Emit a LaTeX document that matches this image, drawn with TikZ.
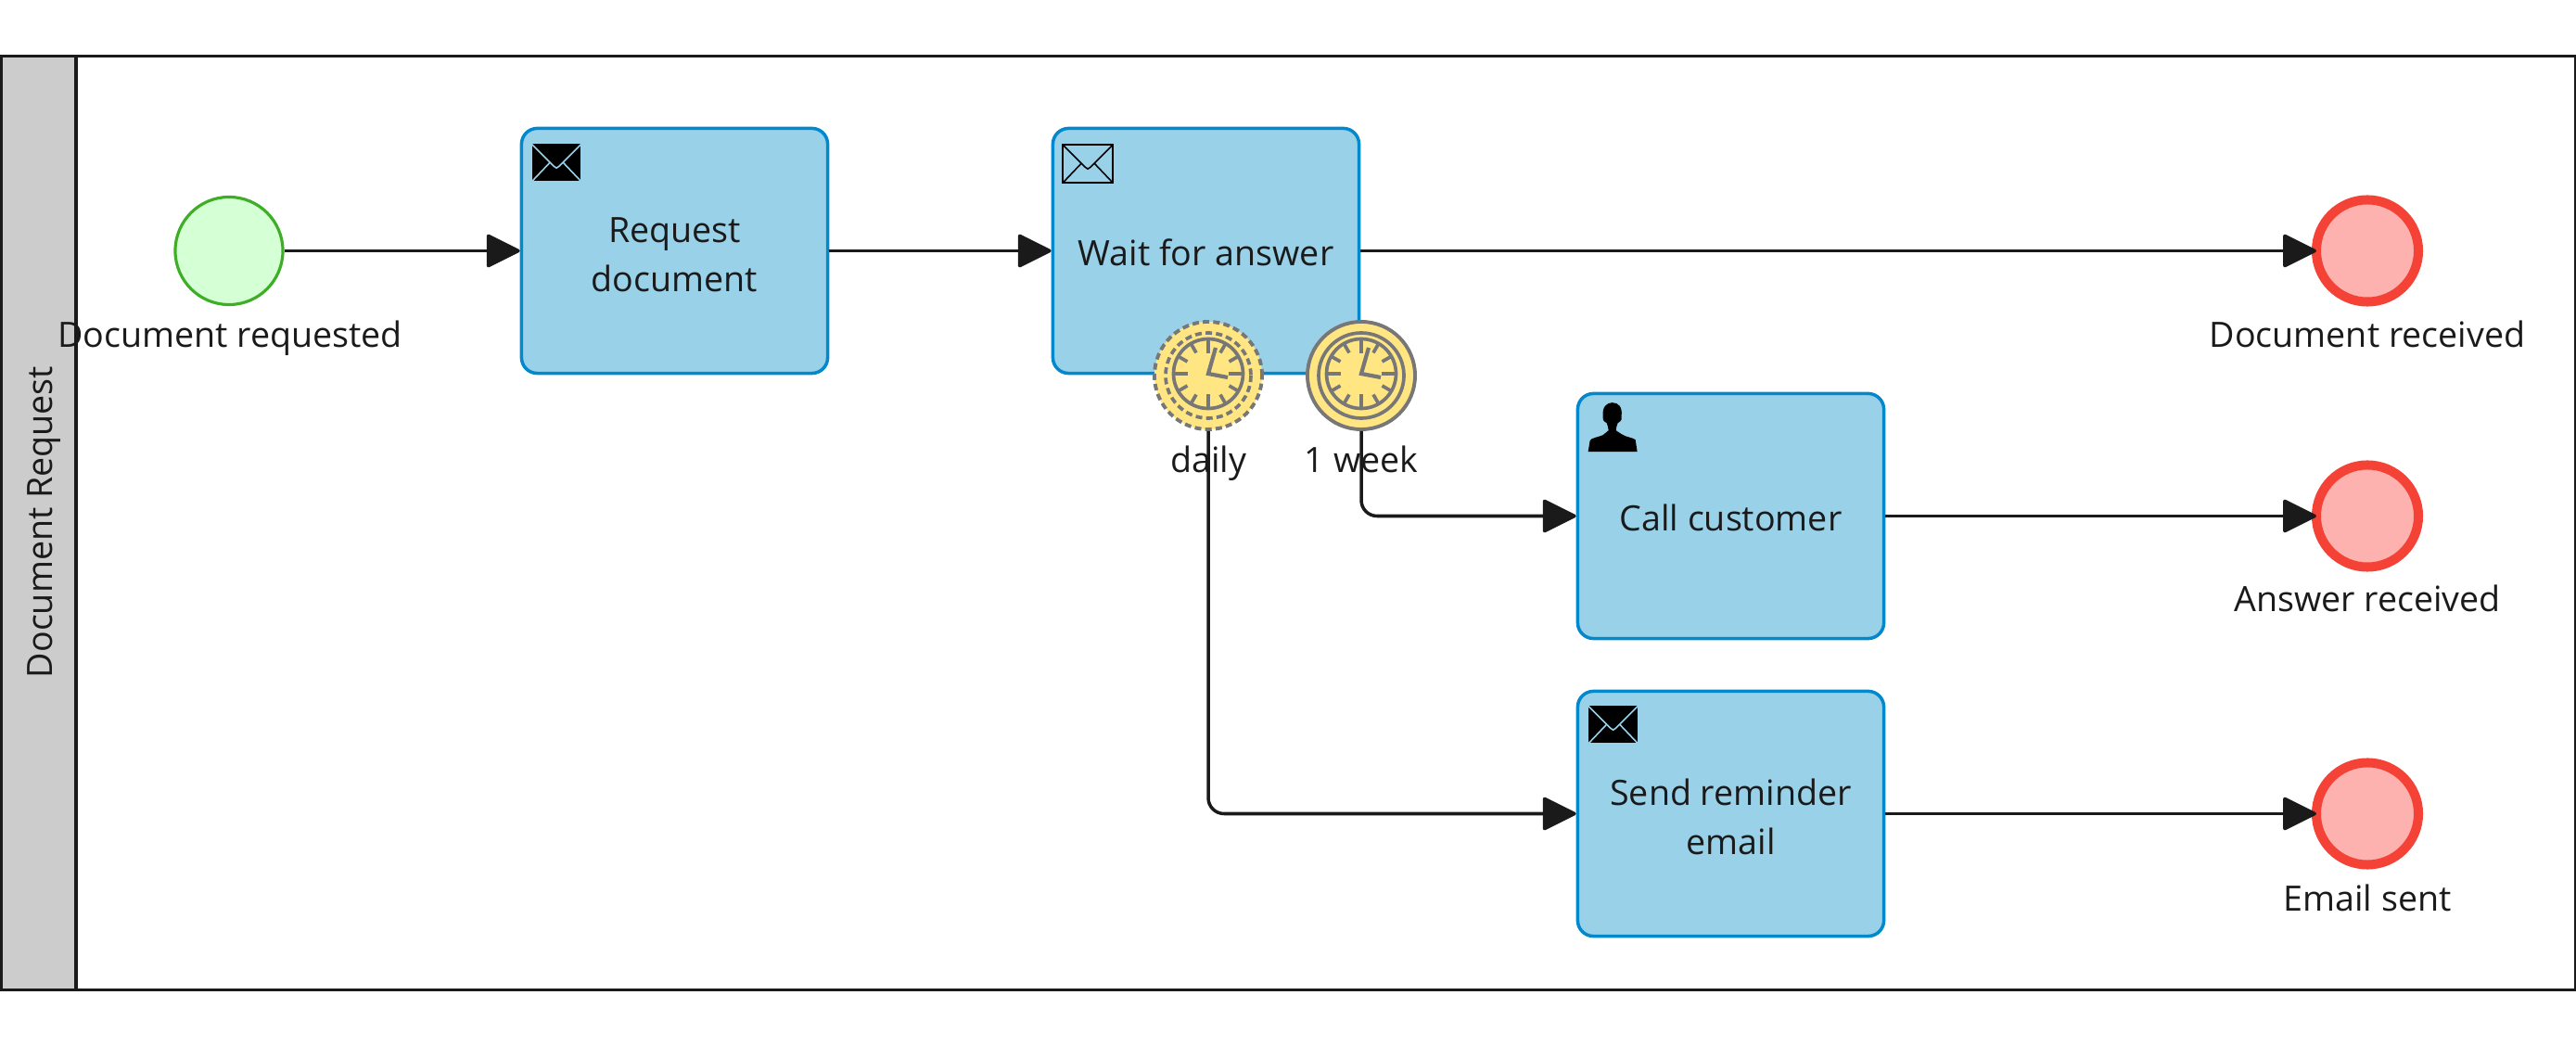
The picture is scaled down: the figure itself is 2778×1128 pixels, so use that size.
\documentclass[tikz,border=0pt]{standalone}
\usepackage{fontspec}
\setmainfont{Open Sans}
\usetikzlibrary{arrows.meta}
\definecolor{taskfill}{HTML}{99D1E9}
\definecolor{taskline}{HTML}{0288CC}
\definecolor{startfill}{HTML}{D5FFD5}
\definecolor{startline}{HTML}{3DAE25}
\definecolor{endfill}{HTML}{FDB2AF}
\definecolor{endline}{HTML}{F44336}
\definecolor{timerfill}{HTML}{FFE682}
\definecolor{timerline}{HTML}{777777}
\definecolor{inkline}{HTML}{1A1A1A}
\definecolor{lanefill}{HTML}{CCCCCC}

\begin{document}
\begin{tikzpicture}[x=0.01cm,y=-0.01cm,font=\fontsize{10.7}{15.2}\selectfont,text=inkline,
  flow/.style={draw=inkline,line width=1pt,-{Triangle[length=0.38cm,width=0.37cm,round]},rounded corners=0.17cm},
  poolbox/.style={draw=inkline,line width=0.9pt,minimum width=27.76cm,minimum height=10.06cm,inner sep=0pt,outer sep=0pt},
  lanebox/.style={draw=inkline,fill=lanefill,line width=0.9pt,minimum width=0.81cm,minimum height=10.06cm,inner sep=0pt,outer sep=0pt},
  taskbox/.style={draw=taskline,fill=taskfill,line width=1pt,rounded corners=0.17cm,minimum width=3.3cm,minimum height=2.64cm,inner sep=0pt,outer sep=0.5pt},
  tasktext/.style={align=center,inner sep=0pt,outer sep=0pt},
  startbox/.style={circle,draw=startline,fill=startfill,line width=0.9pt,minimum size=1.16cm,inner sep=0pt,outer sep=0.5pt},
  endbox/.style={circle,draw=endline,fill=endfill,line width=2.85pt,minimum size=1.1cm,inner sep=0pt,outer sep=0pt},
  timerbox/.style={circle,draw=timerline,fill=timerfill,line width=1.1pt,minimum size=1.16cm,inner sep=0pt,outer sep=0.5pt},
  timerdash/.style={dash pattern=on 2pt off 1.2pt},
  caption/.style={inner sep=0pt,outer sep=0pt,anchor=base},
  envelope/.pic={
    \draw[pic actions,line width=0.45pt] (0,0) rectangle (54,41);
    \draw[pic actions,line width=0.45pt] (0,0) -- (24,24) -- (27,26) -- (30,24) -- (54,0);
    \draw[pic actions,line width=0.45pt] (0,41) -- (20,20) (54,41) -- (34,20);
  },
  person/.pic={
    \fill[black] (0,53) -- (2,41) .. controls (3,38) and (12,37) .. (16,35) -- (22,30)
      .. controls (22,27) and (21,25) .. (20,22) .. controls (16,20) and (15,17) .. (16,14)
      .. controls (15,5) and (20,0) .. (26,0) .. controls (33,0) and (37,5) .. (36,14)
      .. controls (37,17) and (36,20) .. (32,22) .. controls (31,25) and (30,27) .. (30,30)
      -- (36,34) .. controls (40,37) and (49,38) .. (51,40) -- (53,53) -- cycle;
  },
  clock/.pic={
    \draw[draw=timerline,line width=1.05pt] (0,-2) circle (37.5);
    \foreach \a in {0,90,180,270} \draw[draw=timerline,line width=1.05pt] (0,-2) ++(\a:37.5) -- ++(\a:-15.5);
    \foreach \a in {30,60,120,150,210,240,300,330} \draw[draw=timerline,line width=1.05pt] (0,-2) ++(\a:37.5) -- ++(\a:-11.5);
    \draw[draw=timerline,line width=1.2pt] (8,-30) -- (0,-2) -- (21,2);
  }]
\useasboundingbox (0,0) rectangle (2778,1128);

% pool
\node[poolbox] (pool) at (1389,564) {};
\node[lanebox] (lane) at (41.5,564) {};
\node[caption,rotate=90] (lanelabel) at (57,563) {Document Request};

% tasks
\node[taskbox] (reqdoc) at (727.5,270.5) {};
\node[taskbox] (wait) at (1300.5,270.5) {};
\node[taskbox] (call) at (1866.5,556.5) {};
\node[taskbox] (remind) at (1866.5,877.5) {};
\node[tasktext,yshift=-1.2pt] (reqdoctext) at (reqdoc) {Request\\document};
\node[tasktext,yshift=-0.5pt] (waittext) at (wait) {Wait for answer};
\node[tasktext,yshift=-0.5pt] (calltext) at (call) {Call customer};
\node[tasktext,yshift=-1pt] (remindtext) at (remind) {Send reminder\\email};
\pic[fill=black,draw=taskfill,shift={(12.5,18.5)}] at (reqdoc.north west) {envelope};
\pic[draw=black,shift={(12.5,19.5)}] at (wait.north west) {envelope};
\pic[shift={(13,11.5)}] at (call.north west) {person};
\pic[fill=black,draw=taskfill,shift={(13,17.5)}] at (remind.north west) {envelope};

% events
\node[startbox] (start) at (247,270.5) {};
\node[endbox] (endrecv) at (2553,270.5) {};
\node[endbox] (endans) at (2553,556.5) {};
\node[endbox] (endmail) at (2553,877.5) {};

% timers
\node[timerbox,timerdash] (daily) at (1303,405) {};
\draw[draw=timerline,line width=1.05pt,timerdash] (daily) circle (46);
\pic at (daily) {clock};
\node[timerbox] (week) at (1468,405) {};
\draw[draw=timerline,line width=1.05pt] (week) circle (46);
\pic at (week) {clock};

% flows
\draw[flow] (start) -- (reqdoc);
\draw[flow] (reqdoc) -- (wait);
\draw[flow] (wait) -- (endrecv);
\draw[flow] (week.south) |- (call.west);
\draw[flow] (daily.south) |- (remind.west);
\draw[flow] (call) -- (endans);
\draw[flow] (remind) -- (endmail);

% labels
\node[caption] (startlabel) at (248,375) {Document requested};
\node[caption] (recvlabel) at (2553,375) {Document received};
\node[caption] (anslabel) at (2553,660) {Answer received};
\node[caption] (maillabel) at (2553,982) {Email sent};
\node[caption] (dailylabel) at (1303,510) {daily};
\node[caption] (weeklabel) at (1468,510) {1 week};
\end{tikzpicture}
\end{document}
